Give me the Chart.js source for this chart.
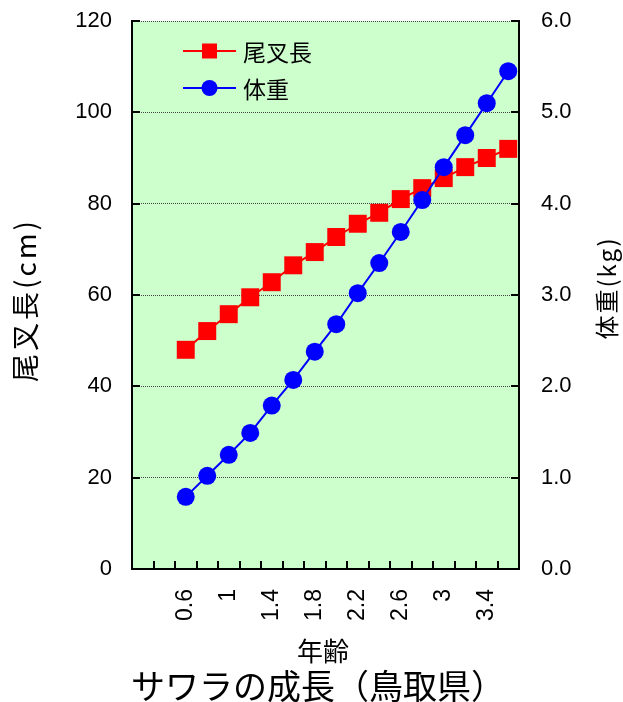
<!DOCTYPE html>
<html lang="ja">
<head>
<meta charset="utf-8">
<title>サワラの成長（鳥取県）</title>
<script src="https://cdn.jsdelivr.net/npm/chart.js@4.4.1/dist/chart.umd.min.js"></script>
<style>
  html, body { margin: 0; padding: 0; background: #fff; }
  #wrap { width: 623px; height: 702px; }
</style>
</head>
<body>
<div id="wrap"><canvas id="growth-chart" width="623" height="702"></canvas></div>
<script>
// x axis slots (age in years); only every other one gets a label
const ageSlots = ['0.2', '0.4', '0.6', '0.8', '1', '1.2', '1.4', '1.6', '1.8', '2',
                  '2.2', '2.4', '2.6', '2.8', '3', '3.2', '3.4', '3.6'];
const ageTickLabels = ['', '', '0.6', '', '1', '', '1.4', '', '1.8', '',
                       '2.2', '', '2.6', '', '3', '', '3.4', ''];

// measured ages
const ages = ['0.6', '0.8', '1', '1.2', '1.4', '1.6', '1.8', '2',
              '2.2', '2.4', '2.6', '2.8', '3', '3.2', '3.4', '3.6'];
// 尾叉長 (cm)
const forkLength = [48.0, 52.1, 55.8, 59.5, 62.8, 66.5, 69.4, 72.7,
                    75.6, 78.0, 81.0, 83.4, 85.6, 88.0, 90.0, 92.0];
// 体重 (kg)
const bodyWeight = [0.79, 1.02, 1.25, 1.49, 1.79, 2.07, 2.38, 2.68,
                    3.02, 3.35, 3.69, 4.04, 4.40, 4.75, 5.10, 5.45];

const NUM_FONT = '"Liberation Sans", Arial, sans-serif';
const JP_FONT = '"Noto Sans CJK JP", "Noto Sans", sans-serif';

// green plot area
const plotBackground = {
  id: 'plotBackground',
  beforeDraw(chart) {
    const { ctx, chartArea: a } = chart;
    ctx.save();
    ctx.fillStyle = '#ccffcc';
    ctx.fillRect(a.left, a.top, a.right - a.left, a.bottom - a.top);
    ctx.restore();
  }
};

function drawVertical(ctx, text, x, y, size, spacing) {
  ctx.save();
  ctx.font = size + 'px ' + JP_FONT;
  ctx.letterSpacing = spacing + 'px';
  ctx.translate(x, y);
  ctx.rotate(-Math.PI / 2);
  ctx.fillText(text, 0, 0);
  ctx.restore();
}

// tick marks pointing into the plot, legend and titles
const extras = {
  id: 'extras',
  afterDraw(chart) {
    const { ctx, chartArea: a, scales } = chart;
    const tickLen = 8;
    ctx.save();
    ctx.strokeStyle = '#000';
    ctx.lineWidth = 2;
    ctx.beginPath();
    scales.y.ticks.forEach(t => {
      const y = Math.round(scales.y.getPixelForValue(t.value));
      ctx.moveTo(a.left, y);
      ctx.lineTo(a.left + tickLen, y);
    });
    scales.y1.ticks.forEach(t => {
      const y = Math.round(scales.y1.getPixelForValue(t.value));
      ctx.moveTo(a.right, y);
      ctx.lineTo(a.right - tickLen, y);
    });
    for (let i = 0; i < ageSlots.length - 1; i++) {
      const x = Math.round((scales.x.getPixelForValue(i) + scales.x.getPixelForValue(i + 1)) / 2);
      ctx.moveTo(x, a.bottom);
      ctx.lineTo(x, a.bottom - tickLen);
    }
    ctx.stroke();

    // legend inside the plot
    const rows = [chart.data.datasets[1], chart.data.datasets[0]];
    rows.forEach((ds, i) => {
      const y = a.top + 30 + i * 37;
      const x0 = a.left + 51;
      const x1 = a.left + 104;
      const cx = (x0 + x1) / 2;
      ctx.strokeStyle = ds.borderColor;
      ctx.lineWidth = 2;
      ctx.beginPath();
      ctx.moveTo(x0, y);
      ctx.lineTo(x1, y);
      ctx.stroke();
      ctx.fillStyle = ds.backgroundColor;
      if (ds.pointStyle === 'rect') {
        ctx.fillRect(cx - 7.5, y - 7.5, 15, 15);
      } else {
        ctx.beginPath();
        ctx.arc(cx, y, 8, 0, Math.PI * 2);
        ctx.fill();
      }
      ctx.fillStyle = '#000';
      ctx.font = '23px ' + JP_FONT;
      ctx.textAlign = 'left';
      ctx.textBaseline = 'middle';
      ctx.fillText(ds.label, x1 + 7, y + 1);
    });

    // axis titles
    ctx.fillStyle = '#000';
    ctx.textAlign = 'center';
    ctx.textBaseline = 'middle';
    drawVertical(ctx, '尾叉長(cm)', 25, 300, 28, 3);
    drawVertical(ctx, '体重(kg)', 607, 288, 24, 2);

    ctx.font = '26px ' + JP_FONT;
    ctx.fillText('年齢', 323, 651);
    ctx.font = '34px ' + JP_FONT;
    ctx.fillText('サワラの成長（鳥取県）', 318, 686);
    ctx.restore();
  }
};

const ctx = document.getElementById('growth-chart').getContext('2d');
new Chart(ctx, {
  type: 'line',
  data: {
    labels: ageSlots,
    datasets: [{
      label: '体重',
      data: ages.map((a, i) => ({ x: a, y: bodyWeight[i] })),
      yAxisID: 'y1',
      borderColor: '#0000ff',
      backgroundColor: '#0000ff',
      borderWidth: 2,
      pointStyle: 'circle',
      pointRadius: 9,
      pointBorderWidth: 0,
      tension: 0,
      clip: false,
      order: 0
    }, {
      label: '尾叉長',
      data: ages.map((a, i) => ({ x: a, y: forkLength[i] })),
      yAxisID: 'y',
      borderColor: '#ff0000',
      backgroundColor: '#ff0000',
      borderWidth: 2,
      pointStyle: 'rect',
      pointRadius: 12.7,
      pointBorderWidth: 0,
      tension: 0,
      clip: false,
      order: 1
    }]
  },
  options: {
    responsive: false,
    animation: false,
    devicePixelRatio: 1,
    layout: { autoPadding: false, padding: { top: 21, left: 0, right: 0, bottom: 0 } },
    plugins: {
      legend: { display: false },
      tooltip: { enabled: false },
      title: { display: false }
    },
    scales: {
      x: {
        type: 'category',
        offset: true,
        grid: { display: false, offset: true },
        border: { display: true, color: '#000', width: 2 },
        ticks: {
          autoSkip: false,
          minRotation: 90,
          maxRotation: 90,
          padding: 12,
          color: '#000',
          font: { family: NUM_FONT, size: 23 },
          callback: (value, index) => ageTickLabels[index]
        },
        afterFit: scale => { scale.height = 133; }
      },
      y: {
        position: 'left',
        min: 0,
        max: 120,
        ticks: {
          stepSize: 20,
          padding: 3,
          color: '#000',
          font: { family: NUM_FONT, size: 22 }
        },
        // invisible outer ticks just push the labels away from the axis
        grid: { color: '#444', lineWidth: 1, drawTicks: true, tickLength: 17, tickColor: 'rgba(0,0,0,0)' },
        border: { display: true, color: '#000', width: 2, dash: [1, 1] },
        afterFit: scale => { scale.width = 132; }
      },
      y1: {
        position: 'right',
        min: 0,
        max: 6,
        ticks: {
          stepSize: 1,
          padding: 3,
          color: '#000',
          font: { family: NUM_FONT, size: 22 },
          callback: v => v.toFixed(1)
        },
        grid: { drawOnChartArea: false, drawTicks: true, tickLength: 19, tickColor: 'rgba(0,0,0,0)' },
        border: { display: true, color: '#000', width: 2 },
        afterFit: scale => { scale.width = 104; }
      }
    }
  },
  plugins: [plotBackground, extras]
});
</script>
</body>
</html>
